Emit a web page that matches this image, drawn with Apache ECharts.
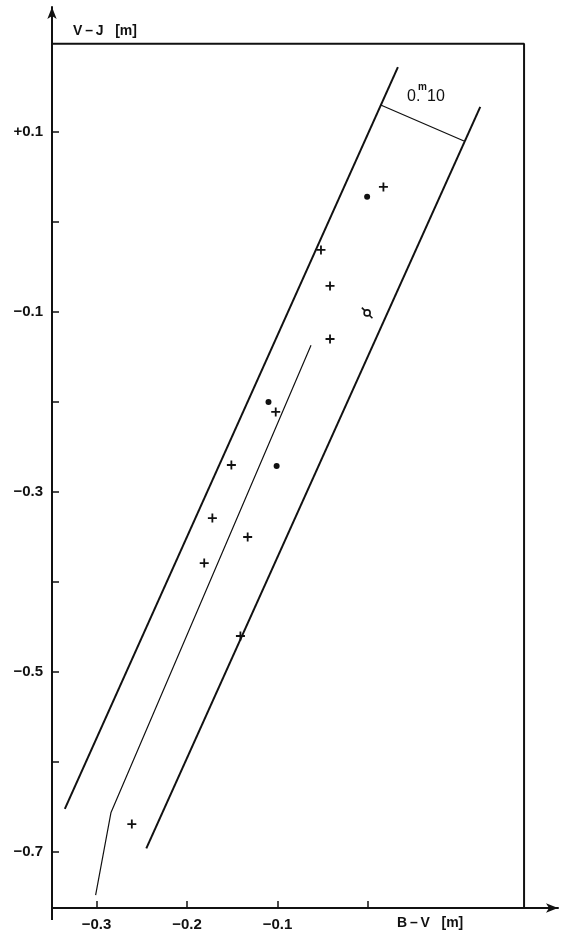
<!DOCTYPE html>
<html>
<head>
<meta charset="utf-8">
<script src="https://cdn.jsdelivr.net/npm/echarts@6/dist/echarts.min.js"></script>
<style>
html,body{margin:0;padding:0;background:#fff;}
#chart{width:570px;height:943px;}
</style>
</head>
<body>
<div id="chart"></div>
<script>
// ---- data (B-V, V-J) in magnitudes ----
const crossPoints = [
  [0.017, 0.039], [-0.052, -0.031], [-0.042, -0.071], [-0.042, -0.130],
  [-0.102, -0.211], [-0.151, -0.270], [-0.172, -0.329], [-0.133, -0.350],
  [-0.181, -0.379], [-0.141, -0.460], [-0.261, -0.669]
];
const dotPoints = [[-0.001, 0.028], [-0.110, -0.200], [-0.101, -0.271]];
const openPoints = [[-0.001, -0.101]];
const leftBand = [[-0.335, -0.652], [0.033, 0.172]];
const rightBand = [[-0.245, -0.696], [0.124, 0.128]];
const centerLine = [[-0.301, -0.748], [-0.284, -0.656], [-0.063, -0.137]];
const widthBar = [[0.014, 0.130], [0.106, 0.090]];
const xTicks = [-0.3, -0.2, -0.1, 0];
const xLabels = [-0.3, -0.2, -0.1];
const yTicks = [0.1, 0, -0.1, -0.2, -0.3, -0.4, -0.5, -0.6, -0.7];
const yLabels = [0.1, -0.1, -0.3, -0.5, -0.7];
const xRange = [-0.3492, 0.2099];
const yRange = [-0.7622, 0.2389];
const frameTop = 0.198, frameRight = 0.1724;

const INK = '#111';
const FONT = 'Liberation Sans';
const fmt = v => (v > 0 ? '+' : (v < 0 ? '\u2212' : '')) + Math.abs(v).toFixed(1);

const chart = echarts.init(document.getElementById('chart'), null, {renderer: 'canvas'});

const lineSeries = (data, width, extra) => Object.assign({
  type: 'line', data: data, showSymbol: false, symbol: 'none', silent: true,
  lineStyle: {color: INK, width: width}, animation: false, z: 3
}, extra || {});

const crossPath = 'path://M-0.2,-1 L0.2,-1 L0.2,-0.2 L1,-0.2 L1,0.2 L0.2,0.2 L0.2,1 L-0.2,1 L-0.2,0.2 L-1,0.2 L-1,-0.2 L-0.2,-0.2 Z';
const barPath = 'path://M-1,-0.1 L1,-0.1 L1,0.1 L-1,0.1 Z';

chart.setOption({
  backgroundColor: '#fff',
  animation: false,
  grid: {left: 52, right: 12, top: 7, bottom: 35, containLabel: false},
  xAxis: {
    type: 'value', min: xRange[0], max: xRange[1],
    axisLine: {show: true, onZero: false, lineStyle: {color: INK, width: 2},
      symbol: ['none', 'arrow'], symbolSize: [7, 12]},
    axisTick: {show: true, inside: true, length: 7, customValues: xTicks, lineStyle: {color: INK, width: 1.5}},
    axisLabel: {show: true, customValues: xLabels, formatter: fmt, margin: 9,
      color: INK, fontFamily: FONT, fontSize: 15, fontWeight: 'bold'},
    splitLine: {show: false}
  },
  yAxis: {
    type: 'value', min: yRange[0], max: yRange[1],
    axisLine: {show: true, onZero: false, lineStyle: {color: INK, width: 2},
      symbol: ['none', 'arrow'], symbolSize: [7, 12]},
    axisTick: {show: true, inside: true, length: 7, customValues: yTicks, lineStyle: {color: INK, width: 1.5}},
    axisLabel: {show: true, customValues: yLabels, formatter: fmt, margin: 9,
      color: INK, fontFamily: FONT, fontSize: 15, fontWeight: 'bold'},
    splitLine: {show: false}
  },
  series: [
    // frame
    lineSeries([[xRange[0], frameTop], [frameRight, frameTop], [frameRight, yRange[0]]], 2),
    // axis stubs beyond the crossing
    lineSeries([[xRange[0], yRange[0]], [-0.3602, yRange[0]]], 2, {clip: false}),
    lineSeries([[xRange[0], yRange[0]], [xRange[0], -0.7756]], 2, {clip: false}),
    // band and centre lines
    lineSeries(leftBand, 2),
    lineSeries(rightBand, 2),
    lineSeries(centerLine, 1.2),
    lineSeries(widthBar, 1.3),
    {
      type: 'scatter', data: crossPoints, symbol: crossPath, symbolSize: 9,
      itemStyle: {color: INK, opacity: 1}, silent: true, z: 5
    },
    {
      type: 'scatter', data: dotPoints, symbol: 'circle', symbolSize: 6,
      itemStyle: {color: INK, opacity: 1}, silent: true, z: 5
    },
    {
      type: 'scatter', data: openPoints, symbol: barPath, symbolSize: [15, 1.6], symbolRotate: -45,
      itemStyle: {color: INK, opacity: 1}, silent: true, z: 5
    },
    {
      type: 'scatter', data: openPoints, symbol: 'circle', symbolSize: 6,
      itemStyle: {color: '#fff', borderColor: INK, borderWidth: 1.6, opacity: 1}, silent: true, z: 6
    }
  ],
  graphic: [
    {type: 'text', left: 73, top: 24, style: {text: 'V\u2009\u2013\u2009J   [m]', fill: INK, font: 'bold 14px "Liberation Sans"'}},
    {type: 'text', left: 397, top: 916, style: {text: 'B\u2009\u2013\u2009V   [m]', fill: INK, font: 'bold 14px "Liberation Sans"'}},
    {type: 'text', left: 407, top: 89, style: {text: '0.', fill: INK, font: '16px "Liberation Sans"'}},
    {type: 'text', left: 418, top: 82, style: {text: 'm', fill: INK, font: 'bold 10px "Liberation Sans"'}},
    {type: 'text', left: 427, top: 89, style: {text: '10', fill: INK, font: '16px "Liberation Sans"'}}
  ]
});
</script>
</body>
</html>
